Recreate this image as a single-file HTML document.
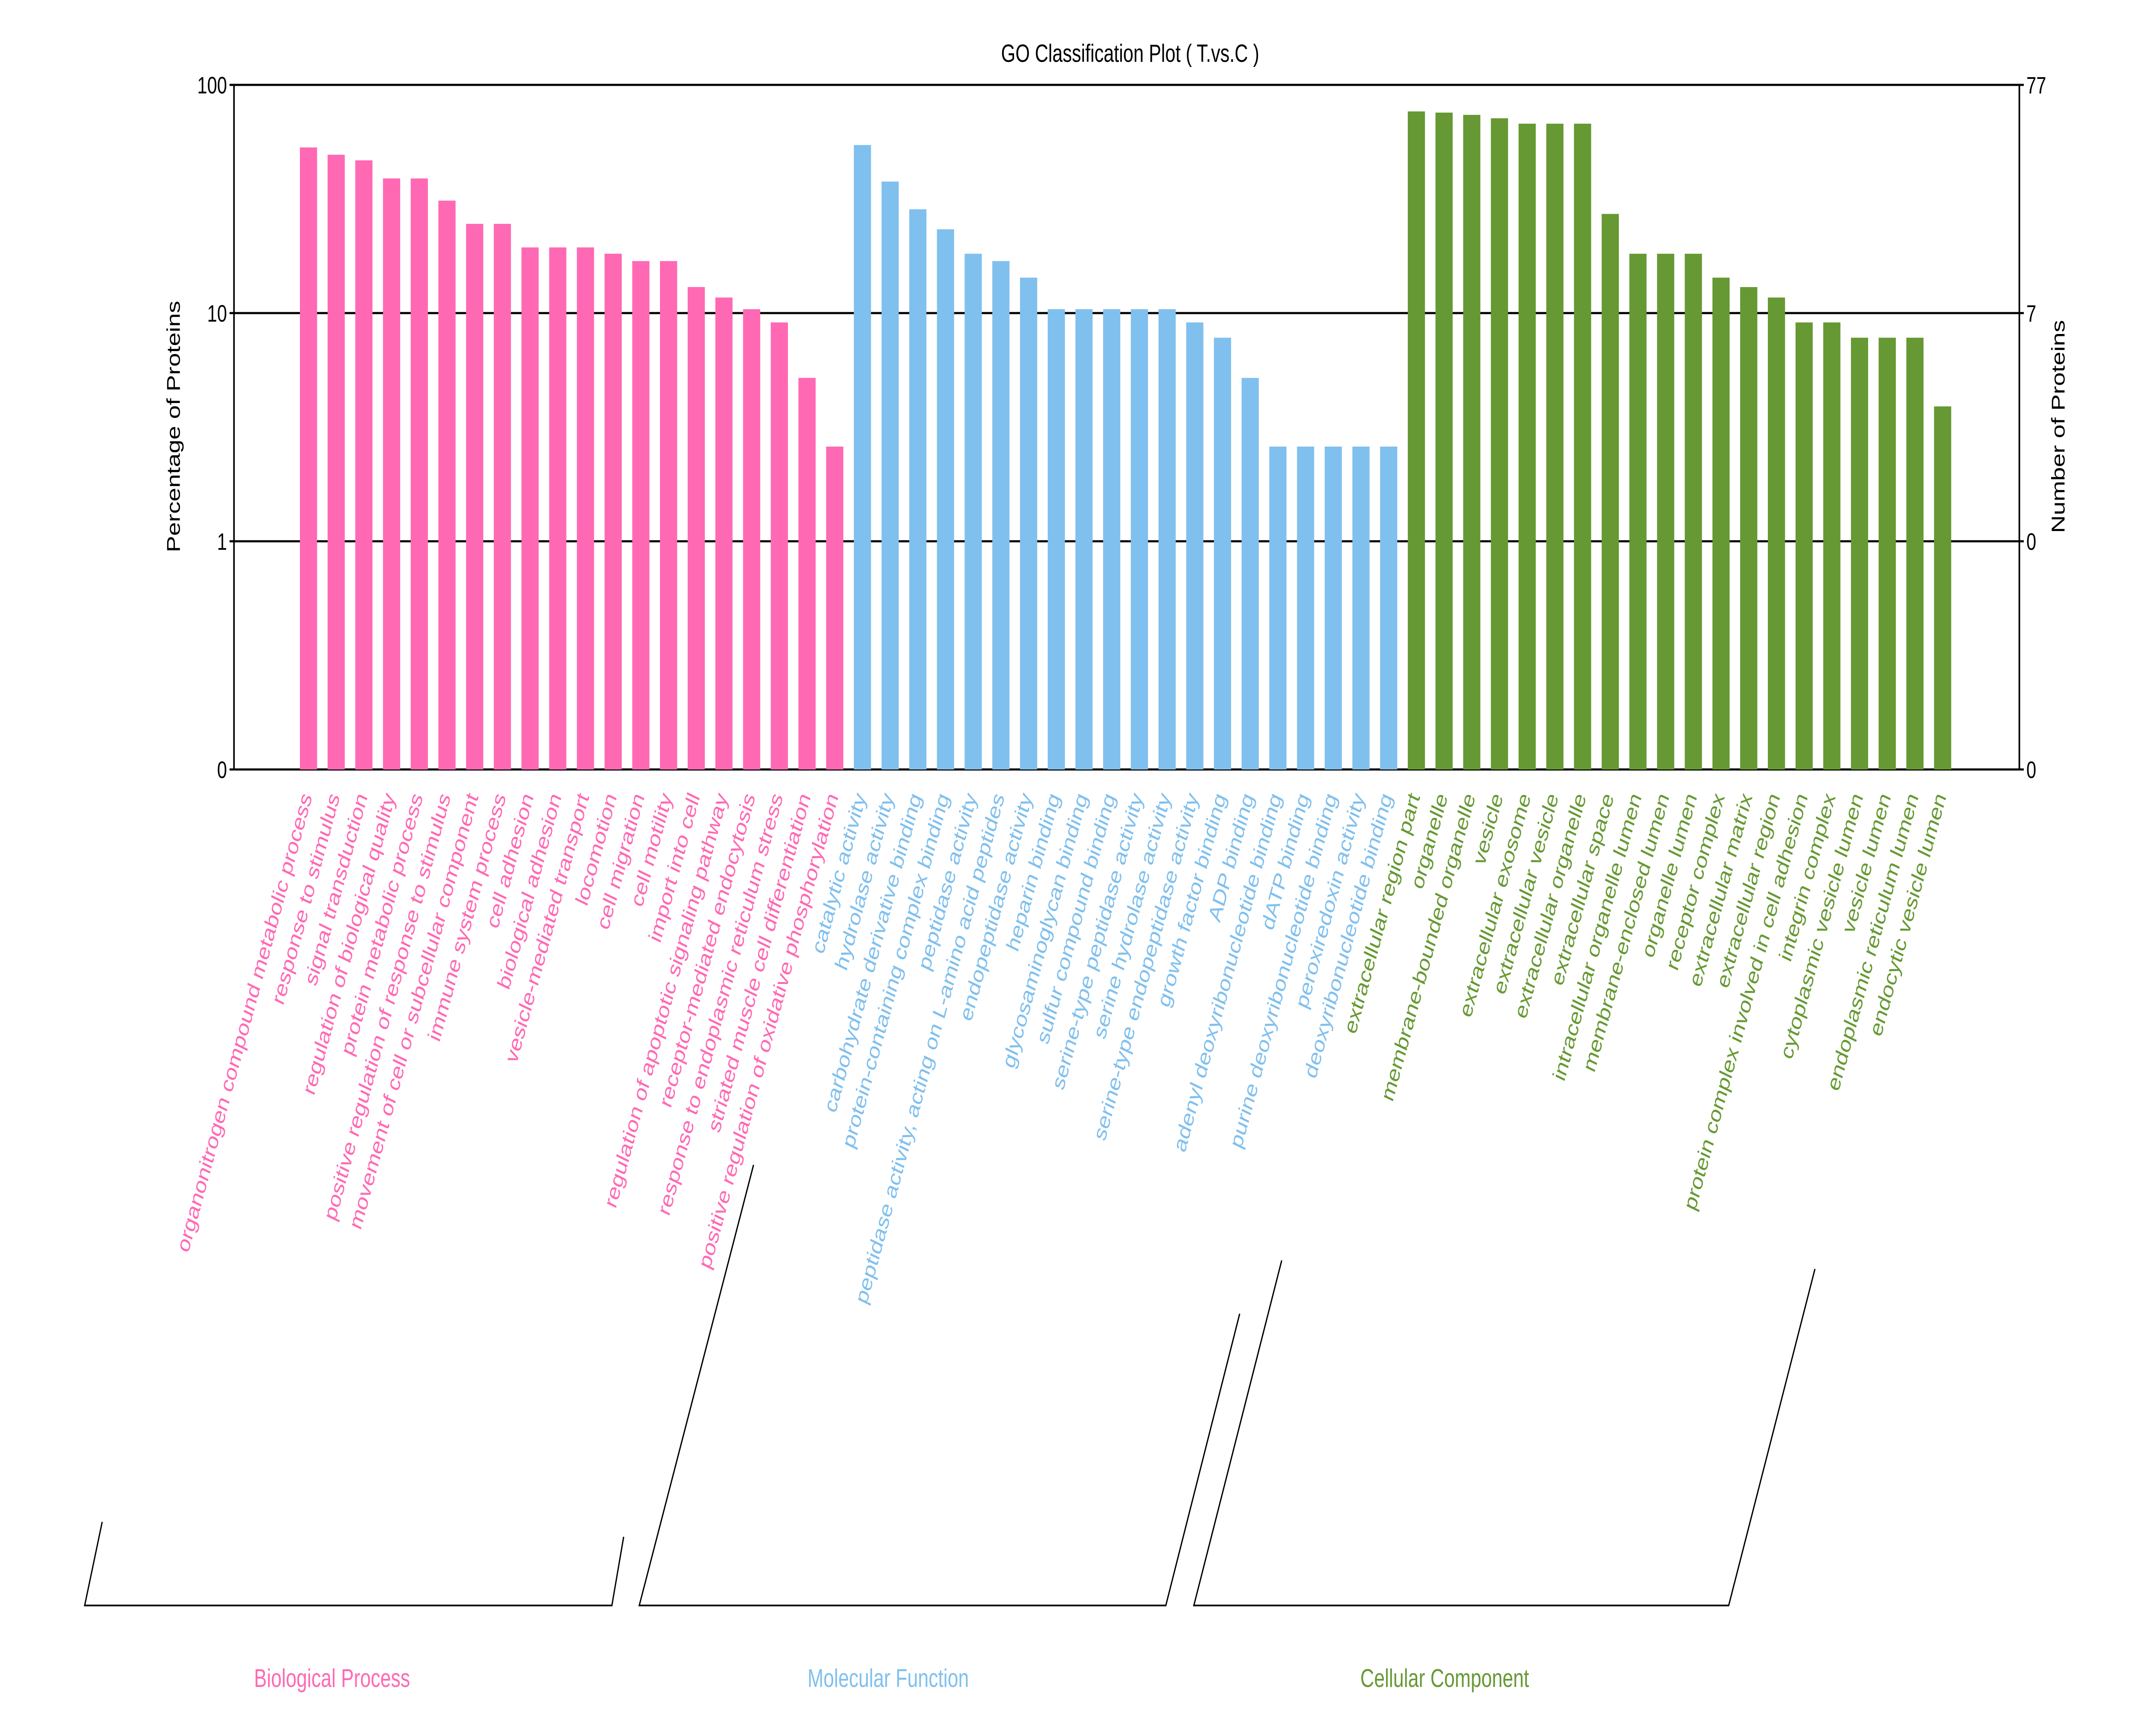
<!DOCTYPE html>
<html><head><meta charset="utf-8"><style>
html,body{margin:0;padding:0;background:#fff;width:100%;height:100%;overflow:hidden}
svg{display:block;font-family:"Liberation Sans",Arial,sans-serif;width:100vw;height:100vh}
</style></head><body>
<svg id="chart" viewBox="0 0 6700 4070" preserveAspectRatio="none" xmlns="http://www.w3.org/2000/svg">
<rect x="0" y="0" width="6700" height="4070" fill="#fff"/>
<text x="3550" y="145" font-size="58" text-anchor="middle">GO Classification Plot ( T.vs.C )</text>
<g id="grid"></g>
<g id="bars"></g>
<g id="axes"></g>
<g id="labels"></g>
<text transform="translate(565,1000) rotate(-90)" font-size="58" text-anchor="middle">Percentage of Proteins</text>
<text transform="translate(6485,1000) rotate(-90)" font-size="58" text-anchor="middle">Number of Proteins</text>
<g stroke="#000" stroke-width="4" fill="none">
<polyline points="321,3568 266,3764 1922,3764 1959,3603"/>
<polyline points="2367,2731 2008,3764 3662,3764 3894,3080"/>
<polyline points="4026,2955 3750,3764 5430,3764 5701,2975"/>
</g>
<text x="1043" y="3955" font-size="60" fill="#FF69B4" text-anchor="middle">Biological Process</text>
<text x="2790" y="3955" font-size="60" fill="#80C0EE" text-anchor="middle">Molecular Function</text>
<text x="4538" y="3955" font-size="60" fill="#669933" text-anchor="middle">Cellular Component</text>
</svg>
<script>
const bpTerms=["organonitrogen compound metabolic process","response to stimulus","signal transduction","regulation of biological quality","protein metabolic process","positive regulation of response to stimulus","movement of cell or subcellular component","immune system process","cell adhesion","biological adhesion","vesicle-mediated transport","locomotion","cell migration","cell motility","import into cell","regulation of apoptotic signaling pathway","receptor-mediated endocytosis","response to endoplasmic reticulum stress","striated muscle cell differentiation","positive regulation of oxidative phosphorylation"];
const bpValues=[53.2,49.4,46.7,38.9,38.9,31.1,24.6,24.6,19.4,19.4,19.4,18.2,16.9,16.9,13.0,11.7,10.4,9.1,5.2,2.6];
const mfTerms=["catalytic activity","hydrolase activity","carbohydrate derivative binding","protein-containing complex binding","peptidase activity","peptidase activity, acting on L-amino acid peptides","endopeptidase activity","heparin binding","glycosaminoglycan binding","sulfur compound binding","serine-type peptidase activity","serine hydrolase activity","serine-type endopeptidase activity","growth factor binding","ADP binding","adenyl deoxyribonucleotide binding","dATP binding","purine deoxyribonucleotide binding","peroxiredoxin activity","deoxyribonucleotide binding"];
const mfValues=[54.5,37.7,28.5,23.3,18.2,16.9,14.3,10.4,10.4,10.4,10.4,10.4,9.1,7.8,5.2,2.6,2.6,2.6,2.6,2.6];
const ccTerms=["extracellular region part","organelle","membrane-bounded organelle","vesicle","extracellular exosome","extracellular vesicle","extracellular organelle","extracellular space","intracellular organelle lumen","membrane-enclosed lumen","organelle lumen","receptor complex","extracellular matrix","extracellular region","protein complex involved in cell adhesion","integrin complex","cytoplasmic vesicle lumen","vesicle lumen","endoplasmic reticulum lumen","endocytic vesicle lumen"];
const ccValues=[76.5,75.6,73.9,71.4,67.6,67.6,67.6,27.2,18.2,18.2,18.2,14.3,13.0,11.7,9.1,9.1,7.8,7.8,7.8,3.9];
const leftTicks=[0.1,1,10,100];
const leftTickLabels=["0","1","10","100"];
const rightTickLabels=["0","0","7","77"];

const NS="http://www.w3.org/2000/svg";
const X0=735,X1=6343,Y100=199,DEC=535,YBOT=1804;
const BAR0=942,STEP=87,BW=54;
function yScale(v){return YBOT-(Math.log10(v)+1)*DEC;}
function xScale(i){return BAR0+i*STEP;}
function mk(tag,attrs,parent){const e=document.createElementNS(NS,tag);for(const k in attrs)e.setAttribute(k,attrs[k]);parent.appendChild(e);return e;}
const grid=document.getElementById('grid'),bars=document.getElementById('bars'),axes=document.getElementById('axes'),labels=document.getElementById('labels');
leftTicks.forEach((t,k)=>{
  const y=yScale(t);
  const l=mk('line',{x1:X0,x2:X1,y1:y,y2:y,stroke:'#000','stroke-width':5},grid);
  
  
  const tl=mk('line',{x1:X0-14,x2:X0,y1:y,y2:y,stroke:'#000','stroke-width':5},axes);
  
  
  const tr=mk('line',{x1:X1,x2:X1+14,y1:y,y2:y,stroke:'#000','stroke-width':5},axes);
  
  
  const a=mk('text',{x:X0-22,y:y+20,'font-size':56,'text-anchor':'end'},axes);a.textContent=leftTickLabels[k];
  
  
  const b=mk('text',{x:X1+22,y:y+20,'font-size':56,'text-anchor':'start'},axes);b.textContent=rightTickLabels[k];
  
  
});
const la=mk('line',{x1:X0,x2:X0,y1:Y100,y2:YBOT,stroke:'#000','stroke-width':5},axes);


const ra=mk('line',{x1:X1,x2:X1,y1:Y100,y2:YBOT,stroke:'#000','stroke-width':5},axes);


const groups=[[bpTerms,bpValues,'#FF69B4'],[mfTerms,mfValues,'#80C0EE'],[ccTerms,ccValues,'#669933']];
let idx=0;
groups.forEach(g=>{
  g[0].forEach((term,j)=>{
    const v=g[1][j],x=xScale(idx),y=yScale(v);
    const r=mk('rect',{x:x,y:y,width:BW,height:YBOT-y,fill:g[2]},bars);
    
    
    const cx=x+BW/2+12;
    const t=mk('text',{transform:'translate('+cx+',1868) rotate(-70)','font-size':57,fill:g[2],'text-anchor':'end'},labels);
    t.textContent=term;
    
    
    idx++;
  });
});
</script>
</body></html>
